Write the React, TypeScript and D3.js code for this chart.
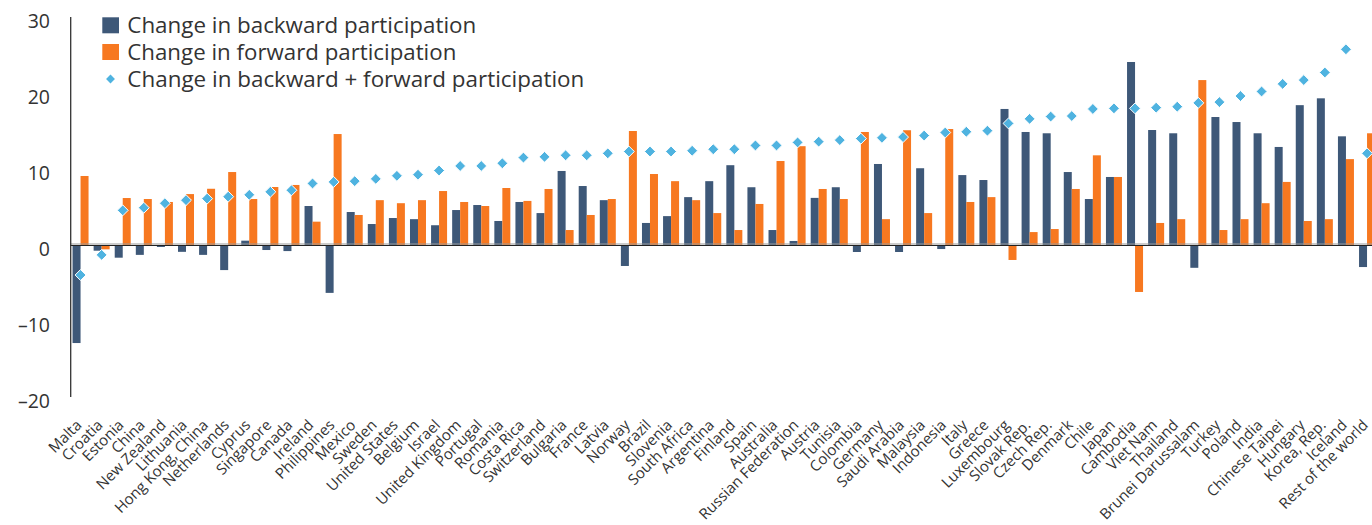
import React from "react";
import * as d3 from "d3";

const countries = [
  "Malta", "Croatia", "Estonia", "China", "New Zealand", "Lithuania", "Hong Kong, China", "Netherlands",
  "Cyprus", "Singapore", "Canada", "Ireland", "Philippines", "Mexico", "Sweden", "United States",
  "Belgium", "Israel", "United Kingdom", "Portugal", "Romania", "Costa Rica", "Switzerland", "Bulgaria",
  "France", "Latvia", "Norway", "Brazil", "Slovenia", "South Africa", "Argentina", "Finland",
  "Spain", "Australia", "Russian Federation", "Austria", "Tunisia", "Colombia", "Germany", "Saudi Arabia",
  "Malaysia", "Indonesia", "Italy", "Greece", "Luxembourg", "Slovak Rep.", "Czech Rep.", "Denmark",
  "Chile", "Japan", "Cambodia", "Viet Nam", "Thailand", "Brunei Darussalam", "Turkey", "Poland",
  "India", "Chinese Taipei", "Hungary", "Korea, Rep.", "Iceland", "Rest of the world",
];

const backward = [
  -12.9, -0.75, -1.67, -1.3, -0.26, -0.9, -1.3, -3.3,
  0.57, -0.66, -0.8, 5.13, -6.3, 4.34, 2.76, 3.55,
  3.4, 2.6, 4.6, 5.26, 3.16, 5.66, 4.2, 9.74,
  7.76, 5.9, -2.76, 2.9, 3.8, 6.3, 8.4, 10.5,
  7.6, 1.97, 0.53, 6.2, 7.6, -0.92, 10.66, -0.92,
  10.1, -0.53, 9.2, 8.55, 17.9, 14.87, 14.7, 9.6,
  6.05, 8.95, 24.08, 15.13, 14.7, -3.0, 16.84, 16.18,
  14.7, 12.9, 18.4, 19.3, 14.3, -2.9,
];

const forward = [
  9.08, -0.57, 6.18, 6.05, 5.66, 6.7, 7.4, 9.6,
  6.05, 7.63, 7.9, 3.07, 14.6, 3.95, 5.9, 5.5,
  5.9, 7.1, 5.66, 5.13, 7.5, 5.8, 7.37, 1.97,
  3.95, 6.05, 15.0, 9.34, 8.4, 5.9, 4.2, 1.97,
  5.4, 11.05, 13.0, 7.37, 6.05, 14.87, 3.4, 15.1,
  4.2, 15.26, 5.66, 6.3, -1.97, 1.7, 2.1, 7.37,
  11.8, 8.95, -6.18, 2.9, 3.4, 21.7, 1.97, 3.4,
  5.5, 8.3, 3.16, 3.4, 11.3, 14.7,
];

const total = [
  -3.95, -1.3, 4.56, 4.9, 5.5, 5.9, 6.1, 6.36,
  6.6, 7.0, 7.2, 8.1, 8.3, 8.4, 8.7, 9.1,
  9.25, 9.8, 10.4, 10.4, 10.75, 11.5, 11.6, 11.8,
  11.8, 12.06, 12.3, 12.3, 12.3, 12.4, 12.6, 12.6,
  13.1, 13.1, 13.5, 13.6, 13.8, 14.0, 14.1, 14.2,
  14.4, 14.8, 14.9, 15.04, 16.0, 16.6, 16.9, 16.97,
  17.9, 17.98, 17.98, 18.07, 18.2, 18.7, 18.8, 19.6,
  20.2, 21.2, 21.7, 22.7, 25.75, 12.06,
];

const yTicks = [30, 20, 10, 0, -10, -20];

const legendLabels = [
  "Change in backward participation",
  "Change in forward participation",
  "Change in backward + forward participation",
];
const legendWidths = [349, 329, 457];

const W = 1372;
const H = 525;
const DARK = "#3e5878";
const ORANGE = "#f77820";
const BLUE = "#4fb3e0";
const FONT = "'Open Sans', 'Noto Sans', sans-serif";

export default function App() {
  const x0 = 70;
  const step = 21.09;
  const x = d3.scaleBand<string>().domain(countries).range([x0, x0 + step * countries.length]).padding(0);
  const sub = d3.scaleBand<string>().domain(["b", "f"]).range([0, x.bandwidth()]).paddingInner(0).paddingOuter(0.318);
  const y = d3.scaleLinear().domain([-20, 30]).range([397, 17]);
  const y0 = y(0);
  const diamond = d3.symbol().type(d3.symbolDiamond2).size(76)();
  const legendDiamond = d3.symbol().type(d3.symbolDiamond2).size(50)();

  const barRect = (v: number) => ({ y: Math.min(y(v), y0), h: Math.abs(y(v) - y0) });

  return (
    <svg width={W} height={H} style={{ position: "absolute", left: 0, top: 0, background: "#fff" }} fontFamily={FONT}>
      {countries.map((c, i) => {
        const bx = x(c)!;
        const b = barRect(backward[i]);
        const f = barRect(forward[i]);
        return (
          <g key={c}>
            <rect x={bx + sub("b")!} y={b.y} width={sub.bandwidth()} height={b.h} fill={DARK} />
            <rect x={bx + sub("f")!} y={f.y} width={sub.bandwidth()} height={f.h} fill={ORANGE} />
          </g>
        );
      })}
      <line x1={x0} x2={W} y1={y0 - 1} y2={y0 - 1} stroke="#9a9a9a" strokeWidth={1} />
      <line x1={x0} x2={W} y1={y0 + 0.5} y2={y0 + 0.5} stroke="#222" strokeWidth={1.2} />
      <line x1={70.7} x2={70.7} y1={17} y2={397} stroke="#333" strokeWidth={1.3} />
      {yTicks.map((t) => (
        <text key={t} x={50} y={y(t) + 6} textAnchor="end" dominantBaseline="middle" fontSize={19.5} fill="#333">
          {t < 0 ? "\u2013" + Math.abs(t) : String(t)}
        </text>
      ))}
      {countries.map((c, i) => (
        <path
          key={"d" + c}
          d={diamond!}
          transform={`translate(${x(c)! + x.bandwidth() / 2},${y(total[i])})`}
          fill={BLUE}
          stroke="#fff"
          strokeWidth={1}
        />
      ))}
      {countries.map((c) => (
        <text
          key={"l" + c}
          transform={`translate(${x(c)! + x.bandwidth() / 2 + 2},${426}) rotate(-45)`}
          textAnchor="end"
          fontSize={15}
          fill="#333"
        >
          {c}
        </text>
      ))}
      <g>
        <rect x={102.3} y={17.3} width={16.7} height={16} fill={DARK} />
        <rect x={102.3} y={44} width={16.7} height={16} fill={ORANGE} />
        <path d={legendDiamond!} transform="translate(110.5,79)" fill={BLUE} />
        {legendLabels.map((l, i) => (
          <text
            key={l}
            x={127.3}
            y={33.3 + i * 26.7}
            fontSize={21}
            fill="#333"
            textLength={legendWidths[i]}
            lengthAdjust="spacingAndGlyphs"
          >
            {l}
          </text>
        ))}
      </g>
    </svg>
  );
}
